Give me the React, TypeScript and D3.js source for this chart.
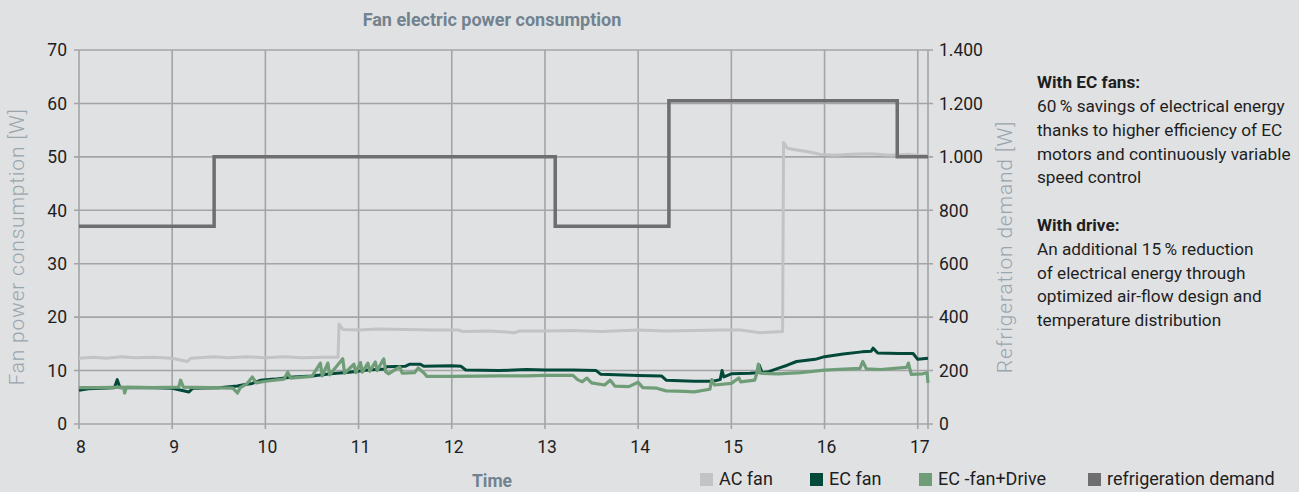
import { useEffect, useRef } from 'react';
import * as d3 from 'd3';

// hours on the x axis
const hourTicks = [8, 9, 10, 11, 12, 13, 14, 15, 16, 17];
const fanTicks = [0, 10, 20, 30, 40, 50, 60, 70];
const demandTicks = [0, 200, 400, 600, 800, 1000, 1200, 1400];

// [hour, W]
const acFan: [number, number][] = [
  [8.0, 12.3], [8.15, 12.5], [8.3, 12.3], [8.45, 12.6], [8.6, 12.4], [8.8, 12.5], [9.0, 12.3],
  [9.16, 11.7], [9.2, 12.3], [9.45, 12.6], [9.6, 12.4], [9.8, 12.6], [10.0, 12.4], [10.2, 12.6],
  [10.4, 12.4], [10.6, 12.5], [10.78, 12.5], [10.79, 18.7], [10.83, 17.7], [11.0, 17.6],
  [11.2, 17.8], [11.5, 17.7], [11.8, 17.6], [12.07, 17.6], [12.12, 17.3], [12.4, 17.4],
  [12.68, 17.1], [12.72, 17.4], [13.0, 17.4], [13.3, 17.5], [13.6, 17.3], [14.0, 17.6],
  [14.3, 17.4], [14.6, 17.5], [14.9, 17.6], [15.1, 17.6], [15.3, 17.1], [15.45, 17.2],
  [15.55, 17.3], [15.56, 52.7], [15.6, 51.6], [15.7, 51.3], [15.81, 51.0], [15.95, 50.5],
  [16.1, 50.3], [16.3, 50.5], [16.5, 50.6], [16.7, 50.3], [16.9, 50.5], [17.0, 50.3], [17.11, 50.2],
];

const ecFan: [number, number][] = [
  [8.0, 6.3], [8.1, 6.6], [8.38, 6.8], [8.41, 8.3], [8.44, 6.8], [8.8, 6.8], [9.0, 6.7],
  [9.18, 6.0], [9.22, 6.7], [9.5, 6.8], [9.7, 7.1], [9.78, 7.4], [9.86, 7.6], [9.95, 8.2],
  [10.1, 8.4], [10.3, 8.8], [10.5, 9.0], [10.7, 9.4], [10.9, 9.7], [11.1, 10.1], [11.28, 10.3],
  [11.3, 10.7], [11.5, 10.8], [11.55, 11.2], [11.66, 11.2], [11.7, 10.8], [12.0, 10.9],
  [12.1, 10.8], [12.15, 10.1], [12.5, 10.0], [12.8, 10.2], [13.0, 10.1], [13.3, 10.1],
  [13.55, 10.0], [13.6, 9.3], [14.0, 9.1], [14.25, 9.0], [14.3, 8.2], [14.6, 8.0], [14.8, 8.0],
  [14.88, 8.3], [14.9, 10.0], [14.92, 8.8], [15.0, 9.4], [15.2, 9.5], [15.28, 9.6], [15.3, 11.0],
  [15.33, 9.6], [15.4, 9.8], [15.5, 10.4], [15.6, 11.0], [15.7, 11.7], [15.9, 12.1], [16.0, 12.6],
  [16.2, 13.1], [16.4, 13.5], [16.5, 13.6], [16.52, 14.2], [16.57, 13.3], [16.8, 13.2],
  [16.95, 13.2], [17.0, 12.1], [17.11, 12.3],
];

const ecDrive: [number, number][] = [
  [8.0, 6.8], [8.2, 6.8], [8.48, 6.9], [8.49, 5.8], [8.51, 6.9], [8.8, 6.8], [9.07, 6.9],
  [9.09, 8.2], [9.12, 6.9], [9.4, 6.8], [9.65, 6.7], [9.7, 5.8], [9.73, 6.8], [9.8, 7.5],
  [9.86, 8.8], [9.9, 7.7], [10.0, 8.0], [10.2, 8.4], [10.24, 9.7], [10.27, 8.6], [10.5, 8.9],
  [10.59, 11.4], [10.61, 9.0], [10.67, 11.4], [10.69, 9.2], [10.83, 12.2], [10.85, 9.5],
  [10.95, 11.2], [10.97, 9.6], [11.02, 11.5], [11.04, 9.7], [11.1, 11.4], [11.12, 9.9],
  [11.18, 11.6], [11.2, 10.0], [11.27, 12.2], [11.29, 9.8], [11.32, 9.4], [11.44, 10.7],
  [11.47, 9.5], [11.6, 9.6], [11.64, 10.5], [11.71, 9.4], [11.73, 8.9], [12.0, 8.9],
  [12.5, 9.0], [12.8, 9.0], [13.0, 9.1], [13.3, 9.1], [13.35, 8.3], [13.4, 7.9], [13.45, 8.6],
  [13.5, 7.7], [13.64, 7.3], [13.7, 8.2], [13.75, 7.1], [13.9, 7.0], [14.0, 7.8], [14.05, 6.8],
  [14.2, 6.7], [14.3, 6.2], [14.5, 6.1], [14.6, 6.0], [14.77, 6.5], [14.79, 8.3], [14.82, 7.3],
  [15.0, 7.6], [15.08, 8.6], [15.1, 7.9], [15.25, 8.2], [15.27, 9.3], [15.29, 11.2], [15.31, 9.5],
  [15.5, 9.4], [15.74, 9.6], [16.0, 10.1], [16.38, 10.4], [16.41, 11.7], [16.45, 10.3],
  [16.6, 10.2], [16.88, 10.6], [16.9, 11.4], [16.93, 9.3], [17.05, 9.4], [17.1, 9.6], [17.11, 7.7],
];

// refrigeration demand steps, right axis
const demandHours = [8, 9.45, 13.11, 14.33, 16.78, 17.11];
const demandWatts = [740, 1000, 740, 1210, 1000, 1000];

const legendItems = [
  { name: 'AC fan', color: '#c2c3c5' },
  { name: 'EC fan', color: '#03493a' },
  { name: 'EC -fan+Drive', color: '#6f9d78' },
  { name: 'refrigeration demand', color: '#6e6e71' },
];

const noteLines = [
  { text: 'With EC fans:', bold: true },
  { text: '60\u2009% savings of electrical energy', bold: false },
  { text: 'thanks to higher efficiency of EC', bold: false },
  { text: 'motors and continuously variable', bold: false },
  { text: 'speed control', bold: false },
  { text: '', bold: false },
  { text: 'With drive:', bold: true },
  { text: 'An additional 15\u2009% reduction', bold: false },
  { text: 'of electrical energy through', bold: false },
  { text: 'optimized air-flow design and', bold: false },
  { text: 'temperature distribution', bold: false },
];

const W = 1299;
const H = 492;
const FONT = 'Roboto, "Open Sans", sans-serif';

export default function App() {
  const svgRef = useRef<SVGSVGElement>(null);

  useEffect(() => {
    if (!svgRef.current) return;
    const svg = d3.select(svgRef.current);
    svg.selectAll('*').remove();

    const left = 79;
    const right = 928;
    const top = 50;
    const bottom = 424;

    const x = d3.scaleLinear().domain([8, 17.11]).range([left, right]);
    const y = d3.scaleLinear().domain([0, 70]).range([bottom, top]);
    const y2 = d3.scaleLinear().domain([0, 1400]).range([bottom, top]);

    svg.append('rect').attr('width', W).attr('height', H).attr('fill', '#e0e1e3');

    const gridColor = '#a3a4a6';

    // vertical grid
    svg.append('g')
      .selectAll('line')
      .data(hourTicks)
      .join('line')
      .attr('x1', (d) => x(d))
      .attr('x2', (d) => x(d))
      .attr('y1', top)
      .attr('y2', bottom + 5)
      .attr('stroke', gridColor)
      .attr('stroke-width', 1.6);

    // horizontal grid
    svg.append('g')
      .selectAll('line')
      .data(fanTicks)
      .join('line')
      .attr('x1', left - 5)
      .attr('x2', right + 5)
      .attr('y1', (d) => y(d))
      .attr('y2', (d) => y(d))
      .attr('stroke', gridColor)
      .attr('stroke-width', 1.6);

    // right axis line
    svg.append('line')
      .attr('x1', right).attr('x2', right)
      .attr('y1', top).attr('y2', bottom + 5)
      .attr('stroke', gridColor).attr('stroke-width', 1.6);

    const tickSize = 17.5;

    // left ticks
    svg.append('g')
      .selectAll('text')
      .data(fanTicks)
      .join('text')
      .attr('x', 67)
      .attr('y', (d) => y(d))
      .attr('dy', '0.36em')
      .attr('text-anchor', 'end')
      .attr('font-family', FONT)
      .attr('font-size', tickSize)
      .attr('fill', '#1e1e1e')
      .text((d) => String(d));

    // right ticks
    const fmt = (v: number) => d3.format(',')(v).replace(',', '.');
    svg.append('g')
      .selectAll('text')
      .data(demandTicks)
      .join('text')
      .attr('x', 939)
      .attr('y', (d) => y2(d))
      .attr('dy', '0.36em')
      .attr('font-family', FONT)
      .attr('font-size', tickSize)
      .attr('fill', '#1e1e1e')
      .text((d) => fmt(d));

    // x ticks
    svg.append('g')
      .selectAll('text')
      .data(hourTicks)
      .join('text')
      .attr('x', (d) => x(d) + 2)
      .attr('y', 447)
      .attr('dy', '0.36em')
      .attr('text-anchor', 'middle')
      .attr('font-family', FONT)
      .attr('font-size', tickSize)
      .attr('fill', '#1e1e1e')
      .text((d) => String(d));

    const line = d3.line<[number, number]>()
      .x((d) => x(d[0]))
      .y((d) => y(d[1]));

    svg.append('path').datum(acFan).attr('d', line)
      .attr('fill', 'none').attr('stroke', legendItems[0].color).attr('stroke-width', 3)
      .attr('stroke-linejoin', 'round');
    svg.append('path').datum(ecFan).attr('d', line)
      .attr('fill', 'none').attr('stroke', legendItems[1].color).attr('stroke-width', 3)
      .attr('stroke-linejoin', 'round');
    svg.append('path').datum(ecDrive).attr('d', line)
      .attr('fill', 'none').attr('stroke', legendItems[2].color).attr('stroke-width', 3.2)
      .attr('stroke-linejoin', 'round');

    const demandLine = d3.line<number>()
      .x((_, i) => x(demandHours[i]))
      .y((d) => y2(d))
      .curve(d3.curveStepAfter);
    svg.append('path').datum(demandWatts).attr('d', demandLine)
      .attr('fill', 'none').attr('stroke', legendItems[3].color).attr('stroke-width', 3.5);

    // titles
    svg.append('text')
      .attr('x', 492).attr('y', 26)
      .attr('text-anchor', 'middle')
      .attr('font-family', FONT).attr('font-weight', 700).attr('font-size', 18)
      .attr('fill', '#72838f')
      .text('Fan electric power consumption');

    svg.append('text')
      .attr('x', 492).attr('y', 481)
      .attr('dy', '0.36em')
      .attr('text-anchor', 'middle')
      .attr('font-family', FONT).attr('font-weight', 700).attr('font-size', 17.5)
      .attr('fill', '#72838f')
      .text('Time');

    svg.append('text')
      .attr('transform', 'translate(24,247) rotate(-90)')
      .attr('text-anchor', 'middle')
      .attr('font-family', FONT).attr('font-weight', 300).attr('font-size', 21)
      .attr('letter-spacing', 0.8)
      .attr('fill', '#9aa6ae')
      .text('Fan power consumption [W]');

    svg.append('text')
      .attr('transform', 'translate(1012,247) rotate(-90)')
      .attr('text-anchor', 'middle')
      .attr('font-family', FONT).attr('font-weight', 300).attr('font-size', 21)
      .attr('letter-spacing', 0.8)
      .attr('fill', '#9aa6ae')
      .text('Refrigeration demand [W]');

    // notes
    const notes = svg.append('g').attr('font-family', FONT).attr('font-size', 17.2).attr('fill', '#1e1e1e');
    noteLines.forEach((l, i) => {
      if (!l.text) return;
      notes.append('text')
        .attr('x', 1037)
        .attr('y', 82 + i * 23.8)
        .attr('dy', '0.36em')
        .attr('font-weight', l.bold ? 700 : 400)
        .text(l.text);
    });

    // legend
    const legendX = [700, 810, 919, 1088];
    const lg = svg.append('g').attr('font-family', FONT).attr('font-size', 18);
    legendItems.forEach((s, i) => {
      lg.append('rect')
        .attr('x', legendX[i]).attr('y', 473)
        .attr('width', 13).attr('height', 13)
        .attr('fill', s.color);
      lg.append('text')
        .attr('x', legendX[i] + 19).attr('y', 479)
        .attr('dy', '0.36em')
        .attr('fill', '#1e1e1e')
        .text(s.name);
    });
  }, []);

  return (
    <svg
      ref={svgRef}
      width={W}
      height={H}
      style={{ position: 'absolute', left: 0, top: 0, display: 'block' }}
    />
  );
}
